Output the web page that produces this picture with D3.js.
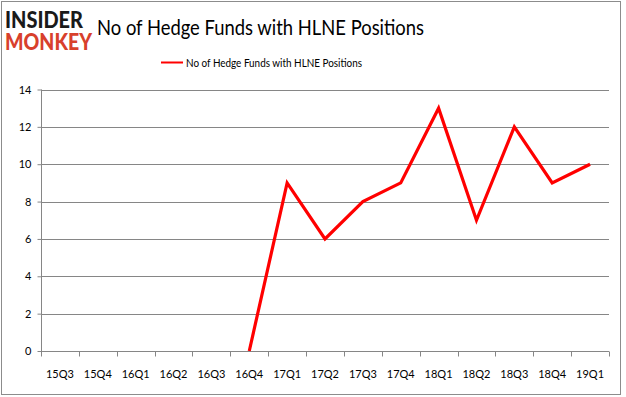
<!DOCTYPE html>
<html>
<head>
<meta charset="utf-8">
<script src="https://cdnjs.cloudflare.com/ajax/libs/d3/7.8.5/d3.min.js"></script>
<style>
  body { margin: 0; background: #fff; }
  text { font-family: Lato, "Open Sans", sans-serif; }
</style>
</head>
<body>
<script>
// chart data
var quarters = ["15Q3","15Q4","16Q1","16Q2","16Q3","16Q4","17Q1","17Q2","17Q3","17Q4","18Q1","18Q2","18Q3","18Q4","19Q1"];
var funds = [null, null, null, null, null, 0, 9, 6, 8, 9, 13, 7, 12, 9, 10];
var yTicks = [0, 2, 4, 6, 8, 10, 12, 14];
var seriesName = "No of Hedge Funds with HLNE Positions";

var w = 626, h = 397;
var plotLeft = 41, plotRight = 609, plotTop = 89.5, plotBottom = 351;

var svg = d3.select("body").append("svg")
    .attr("width", w)
    .attr("height", h);

// outer frame
svg.append("rect")
    .attr("x", 1.5).attr("y", 1.5)
    .attr("width", 619).attr("height", 393)
    .attr("fill", "none")
    .attr("stroke", "#8c8c8c");

// scales
var x = d3.scaleBand().domain(quarters).range([plotLeft, plotRight]);
var y = d3.scaleLinear().domain([0, 14]).range([plotBottom, plotTop]);

// gridlines
svg.append("g").selectAll("line")
    .data(yTicks.slice(1))
    .enter().append("line")
    .attr("x1", plotLeft).attr("x2", plotRight)
    .attr("y1", function(d) { return Math.round(y(d)) + 0.5; })
    .attr("y2", function(d) { return Math.round(y(d)) + 0.5; })
    .attr("stroke", "#868686");

// y axis
var yAxis = svg.append("g")
    .attr("transform", "translate(" + (plotLeft + 0.5) + ",0)")
    .call(d3.axisLeft(y).tickValues(yTicks).tickSize(4).tickPadding(6));
yAxis.select(".domain").attr("stroke", "#868686").attr("d", "M0," + plotTop + "V" + plotBottom);
yAxis.selectAll(".tick line").attr("stroke", "#868686");
yAxis.selectAll("text").attr("font-size", 11).attr("fill", "#000").attr("font-family", "Lato, sans-serif");

// x axis
var xAxis = svg.append("g")
    .attr("transform", "translate(0," + (Math.round(plotBottom) + 0.5) + ")");
xAxis.append("line")
    .attr("x1", plotLeft).attr("x2", plotRight)
    .attr("stroke", "#868686");
xAxis.selectAll(".tk")
    .data(quarters.concat(["end"]))
    .enter().append("line")
    .attr("x1", function(d, i) { return Math.round(plotLeft + i * x.bandwidth()) + 0.5; })
    .attr("x2", function(d, i) { return Math.round(plotLeft + i * x.bandwidth()) + 0.5; })
    .attr("y1", 0).attr("y2", 5)
    .attr("stroke", "#868686");
xAxis.selectAll(".lbl")
    .data(quarters)
    .enter().append("text")
    .attr("x", function(d) { return x(d) + x.bandwidth() / 2; })
    .attr("y", 26)
    .attr("text-anchor", "middle")
    .attr("font-size", 11)
    .text(function(d) { return d; });

// series line
var line = d3.line()
    .defined(function(d) { return d != null; })
    .x(function(d, i) { return x(quarters[i]) + x.bandwidth() / 2; })
    .y(function(d) { return y(d); });

svg.append("path")
    .datum(funds)
    .attr("d", line)
    .attr("fill", "none")
    .attr("stroke", "#ff0000")
    .attr("stroke-width", 3.2)
    .attr("stroke-linejoin", "miter");

// title
svg.append("text")
    .attr("x", 97).attr("y", 35)
    .attr("font-size", 21)
    .attr("textLength", 327)
    .attr("lengthAdjust", "spacingAndGlyphs")
    .text(seriesName);

// legend
svg.append("line")
    .attr("x1", 161).attr("x2", 183)
    .attr("y1", 62.5).attr("y2", 62.5)
    .attr("stroke", "#ff0000")
    .attr("stroke-width", 2);
svg.append("text")
    .attr("x", 186).attr("y", 66.5)
    .attr("font-size", 11)
    .attr("textLength", 176)
    .attr("lengthAdjust", "spacingAndGlyphs")
    .text(seriesName);

// logo
svg.append("text")
    .attr("x", 5).attr("y", 28)
    .attr("font-size", 22)
    .attr("font-weight", 900)
    .attr("font-family", "'DejaVu Sans', sans-serif")
    .attr("textLength", 78)
    .attr("lengthAdjust", "spacingAndGlyphs")
    .attr("fill", "#1a1a1a")
    .text("INSIDER");
svg.append("text")
    .attr("x", 5).attr("y", 50)
    .attr("font-size", 22)
    .attr("font-weight", 900)
    .attr("font-family", "'DejaVu Sans', sans-serif")
    .attr("textLength", 87)
    .attr("lengthAdjust", "spacingAndGlyphs")
    .attr("fill", "#d8402c")
    .text("MONKEY");
</script>
</body>
</html>
